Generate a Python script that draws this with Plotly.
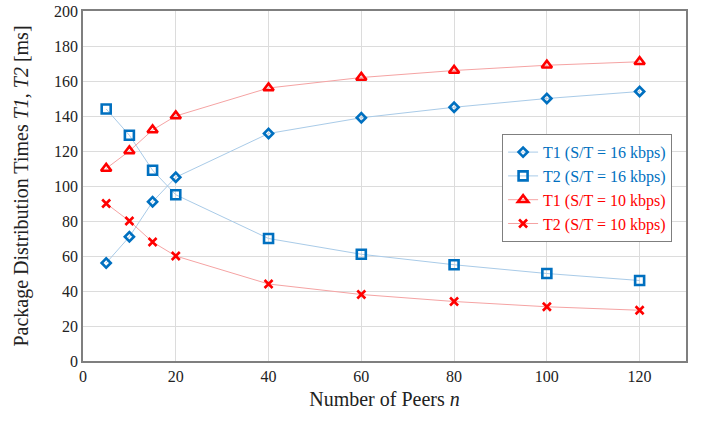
import plotly.graph_objects as go

peers = [5, 10, 15, 20, 40, 60, 80, 100, 120]
t1_16 = [56, 71, 91, 105, 130, 139, 145, 150, 154]
t2_16 = [144, 129, 109, 95, 70, 61, 55, 50, 46]
t1_10 = [110, 120, 132, 140, 156, 162, 166, 169, 171]
t2_10 = [90, 80, 68, 60, 44, 38, 34, 31, 29]

x_ticks = [0, 20, 40, 60, 80, 100, 120]
y_ticks = list(range(0, 201, 20))

BLUE = "#0070C0"
RED = "#FF0000"
LBLUE = "#A9CBE8"
LRED = "#F5A3A3"

series = [
    ("T1 (S/T = 16 kbps)", t1_16, BLUE, LBLUE, "diamond-open", 7),
    ("T2 (S/T = 16 kbps)", t2_16, BLUE, LBLUE, "square-open", 9),
    ("T1 (S/T = 10 kbps)", t1_10, RED, LRED, "triangle-up-open", 9),
    ("T2 (S/T = 10 kbps)", t2_10, RED, LRED, "x-thin-open", 8),
]

fig = go.Figure()
for name, ys, col, lcol, sym, size in series:
    fig.add_trace(go.Scatter(
        x=peers, y=ys, mode="lines+markers",
        name=f"<span style='color:{col}'>{name}</span>",
        line=dict(color=lcol, width=1),
        marker=dict(symbol=sym, size=size, color=col,
                    line=dict(color=col, width=2.6)),
    ))

font = "Times New Roman"
fig.update_layout(
    width=701, height=421,
    margin=dict(l=83, r=15, t=11, b=60),
    paper_bgcolor="white", plot_bgcolor="white",
    font=dict(family=font, size=16, color="#222222"),
    showlegend=True,
    legend=dict(
        x=0.695, y=0.648, xanchor="left", yanchor="top",
        bgcolor="white", bordercolor="#7F7F7F", borderwidth=1,
        font=dict(family=font, size=16),
        itemwidth=30, tracegroupgap=0,
    ),
    xaxis=dict(
        range=[0, 130], tickvals=x_ticks, ticks="",
        showgrid=True, gridcolor="#DCDCDC", gridwidth=1,
        showline=True, linecolor="#7F7F7F", linewidth=1.5, mirror=True,
        zeroline=False, automargin=False,
        title=dict(text="Number of Peers <i>n</i>", font=dict(size=20), standoff=8),
        tickfont=dict(family=font, size=16),
    ),
    yaxis=dict(
        range=[0, 200], tickvals=y_ticks, ticks="",
        showgrid=True, gridcolor="#DCDCDC", gridwidth=1,
        showline=True, linecolor="#7F7F7F", linewidth=1.5, mirror=True,
        zeroline=False, automargin=False,
        title=dict(text="Package Distribution Times <i>T1</i>, <i>T2</i> [ms]",
                   font=dict(size=20), standoff=20),
        tickfont=dict(family=font, size=16),
    ),
)

fig.write_html("out.html", config={"displayModeBar": False},
               post_script="document.body.style.margin='0';")
